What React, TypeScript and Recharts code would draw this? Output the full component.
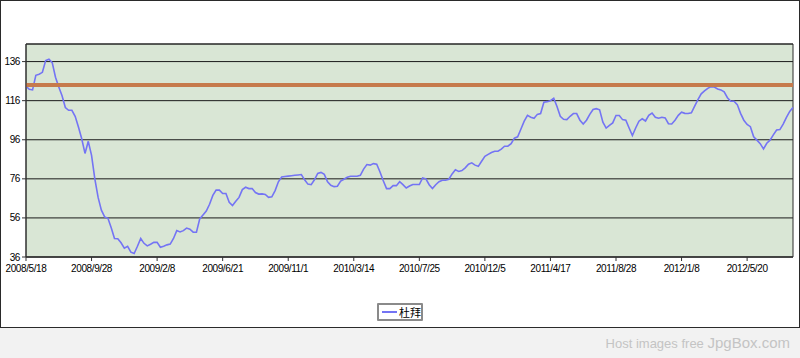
import { LineChart, Line, XAxis, YAxis, CartesianGrid, ReferenceLine, ReferenceArea } from 'recharts';

// weekly index -> value (week 0 = 2008/5/18)
const dubaiValues = [
  123.4, 121.8, 121.5, 129, 129.5, 130.5, 136.5, 137.2, 135.5, 128,
  123, 118.5, 112.5, 111.1, 111.1, 108, 102.5, 96.5, 89, 95.2,
  88, 76, 66.5, 60, 56.5, 55.8, 51, 45.5, 45.3, 43.3,
  40.5, 41.5, 38.5, 37.8, 41.5, 45.5, 43, 41.7, 42.5, 43.5,
  43.5, 41, 41.5, 42.2, 42.6, 45.5, 49.5, 48.8, 49.5, 50.8,
  50.2, 48.7, 48.7, 55.5, 57.5, 59.5, 63, 67.5, 70.2, 70.2,
  68.5, 68.5, 64, 62.3, 64.5, 66.5, 70.5, 71.7, 71, 71,
  69, 68.2, 68.3, 68, 66.5, 66.8, 70, 74.5, 77, 77.2,
  77.4, 77.6, 77.8, 78, 78.2, 75.5, 73.3, 73, 75.5, 78.8,
  79.3, 78.3, 74.5, 72.7, 72, 72.2, 74.8, 75.8, 76.8, 77.3,
  77.3, 77.3, 77.8, 81, 83.3, 83, 83.8, 83.5, 79.5, 75,
  71, 71, 72.5, 72.5, 74.5, 73, 71.3, 72.3, 73.1, 73.1,
  73.1, 76.5, 76, 73, 71, 73, 74.5, 75.3, 75.3, 75.8,
  78.5, 80.6, 79.8, 80.2, 81.6, 83.5, 84.2, 83, 82.4, 85,
  87.5, 88.5, 89.5, 90.1, 90.1, 91.2, 92.7, 92.7, 94, 96.8,
  97.5, 101.5, 105.5, 108.5, 107.5, 107, 109, 109.4, 115.2, 115.5,
  116, 117.2, 113, 108, 106.5, 106.3, 108, 109.4, 109.4, 106,
  104, 106, 109, 111.5, 111.9, 111.3, 105, 102, 103.3, 104.6,
  108.4, 108.4, 106.3, 106, 102, 98.2, 102, 105.5, 106.7, 105.6,
  108.5, 109.7, 107.5, 107, 107.5, 107.2, 104.2, 104.1, 106, 108.5,
  110.1, 109.5, 109.4, 109.8, 113.2, 116.5, 119.5, 121, 122.3, 123.2,
  123, 122, 121.5, 120.5, 117.5, 115.7, 115.7, 114, 109.5, 106,
  103.8, 102.7, 97.5, 95.8, 94, 91.3, 94.2, 95.8, 98.5, 101,
  101.2, 104, 107.5, 110.5, 112.5,
];

const tickLabels = [
  '2008/5/18', '2008/9/28', '2009/2/8', '2009/6/21', '2009/11/1', '2010/3/14',
  '2010/7/25', '2010/12/5', '2011/4/17', '2011/8/28', '2012/1/8', '2012/5/20',
];
const tickIndexes = [0, 20, 40, 60, 80, 100, 120, 140, 160, 180, 200, 220];
const yTicks = [36, 56, 76, 96, 116, 136];
const referenceValue = 124;
const seriesName = '杜拜';

const chartData = dubaiValues.map((v, i) => ({ i, value: v }));

const tickStyle = { fill: '#000', fontSize: 10, fontFamily: 'Liberation Sans', letterSpacing: -0.4 };

export default function App() {
  return (
    <div style={{ position: 'absolute', left: 0, top: 0, width: 800, height: 358, background: '#fff' }}>
      <div style={{ position: 'absolute', left: 0, top: 0, width: 800, height: 328, boxSizing: 'border-box', border: '1px solid #2a2a2a' }} />
      <LineChart
        width={800}
        height={328}
        data={chartData}
        margin={{ top: 44, right: 7, left: 0, bottom: 0 }}
        style={{ position: 'absolute', left: 0, top: 0 }}
      >
        <CartesianGrid vertical={false} stroke="#1a1a1a" fill="#d9e6d5" fillOpacity={1} />
        <XAxis
          dataKey="i"
          type="number"
          domain={[0, 234]}
          ticks={tickIndexes}
          tickFormatter={(v: number) => tickLabels[tickIndexes.indexOf(v)]}
          interval={0}
          height={71}
          tickSize={4}
          tickMargin={4}
          stroke="#333"
          tick={tickStyle}
        />
        <YAxis
          domain={[36, 145]}
          ticks={yTicks}
          width={26}
          tickSize={4}
          tickMargin={2}
          stroke="#333"
          tick={tickStyle}
          allowDataOverflow
        />
        <Line
          dataKey="value"
          stroke="#7474f4"
          strokeWidth={1.6}
          dot={false}
          type="linear"
          isAnimationActive={false}
        />
        <ReferenceLine y={referenceValue} stroke="#c67a4c" strokeWidth={4} />
        <ReferenceArea x1={0} x2={234} y1={36} y2={145} fill="none" stroke="#2a2a2a" strokeWidth={1} />
      </LineChart>
      <div
        style={{
          position: 'absolute', left: 377, top: 303, width: 46, height: 18, boxSizing: 'border-box',
          border: '2px solid #8a8a8a', borderRadius: 1, display: 'flex', alignItems: 'center',
          fontFamily: 'Noto Sans CJK TC', fontSize: 11, lineHeight: '14px', color: '#000', whiteSpace: 'nowrap',
        }}
      >
        <span style={{ display: 'inline-block', flex: 'none', width: 15, height: 2, background: '#7474f4', marginLeft: 3, marginRight: 2 }} />
        <span>{seriesName}</span>
      </div>
      <div
        style={{
          position: 'absolute', left: 0, top: 328, width: 800, height: 30, background: '#f2f2f2',
          textAlign: 'right', fontFamily: 'Liberation Sans', color: '#c4c4c4', lineHeight: '30px',
        }}
      >
        <span style={{ fontSize: 13 }}>Host images free </span>
        <span style={{ fontSize: 15, marginRight: 10 }}>JpgBox.com</span>
      </div>
    </div>
  );
}
